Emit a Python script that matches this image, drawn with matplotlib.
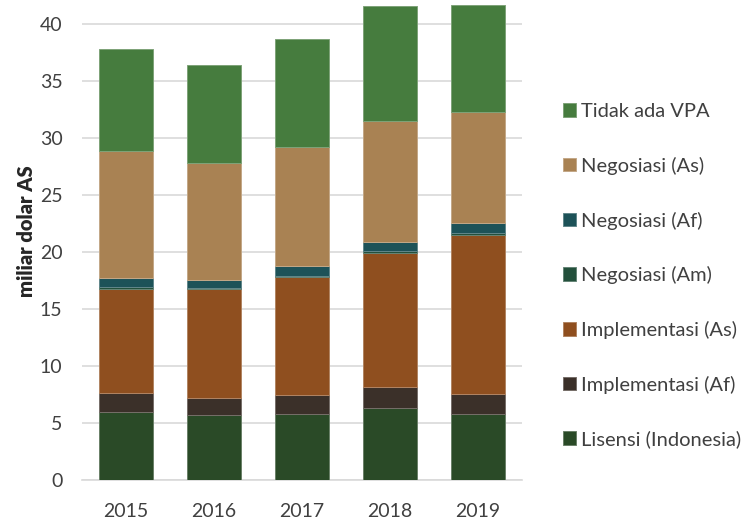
import matplotlib
matplotlib.use("Agg")
import matplotlib.pyplot as plt
import matplotlib.colors as mcolors
import numpy as np

plt.rcParams['font.family'] = ['Lato', 'DejaVu Sans']

years = ["2015", "2016", "2017", "2018", "2019"]
series_names = ["Lisensi (Indonesia)", "Implementasi (Af)", "Implementasi (As)",
                "Negosiasi (Am)", "Negosiasi (Af)", "Negosiasi (As)", "Tidak ada VPA"]
lisensi = [5.96, 5.73, 5.84, 6.37, 5.84]
impl_af = [1.67, 1.52, 1.62, 1.79, 1.70]
impl_as = [9.18, 9.50, 10.37, 11.78, 14.00]
neg_am = [0.12, 0.12, 0.12, 0.17, 0.15]
neg_af = [0.84, 0.73, 0.82, 0.79, 0.86]
neg_as = [11.14, 10.23, 10.47, 10.62, 9.73]
tidak = [8.92, 8.60, 9.44, 10.08, 9.38]
colors = ["#2a4a27", "#3b3029", "#8f4f1f", "#23503c", "#1d5258", "#a98253", "#467c3e"]

data = [lisensi, impl_af, impl_as, neg_am, neg_af, neg_as, tidak]

fig = plt.figure(figsize=(7.5, 5.19), dpi=100)
ax = fig.add_axes([82/750, (519-480.3)/519, 440/750, (480.3-1.5)/519])

x = np.arange(len(years))
bottom = np.zeros(len(years))
handles = []
for vals, name, col in zip(data, series_names, colors):
    rgb = np.array(mcolors.to_rgb(col))
    light = rgb + (1 - rgb) * 0.3
    b = ax.bar(x, vals, width=0.62, bottom=bottom, color=col, edgecolor=light,
               linewidth=0.7, label=name, zorder=3)
    handles.append(b)
    bottom += np.array(vals)

ax.set_xlim(-0.5, 4.5)
ax.set_ylim(0, 42)
ax.set_yticks(np.arange(0, 41, 5))
ax.set_xticks(x)
ax.set_xticklabels(years)
ax.yaxis.grid(True, color="#d9d9d9", linewidth=1.2, zorder=0)
ax.set_axisbelow(True)
for s in ["top", "right", "left"]:
    ax.spines[s].set_visible(False)
ax.spines["bottom"].set_color("#d9d9d9")
ax.spines["bottom"].set_linewidth(1.2)
ax.tick_params(axis="both", length=0, labelsize=14, colors="#404040")
ax.tick_params(axis="y", pad=14)
ax.tick_params(axis="x", pad=16)
ax.set_ylabel("miliar dolar AS", fontsize=14.5, fontweight="heavy", color="#262626")
ax.yaxis.set_label_coords(-0.104, 1 - (231-1.5)/(480.3-1.5))

leg = fig.legend(handles[::-1], series_names[::-1], loc="upper left",
                 bbox_to_anchor=(544.5/750, 1 - 85/519), frameon=False,
                 fontsize=14.5, handlelength=0.65, handleheight=0.65,
                 handletextpad=0.25, labelspacing=1.82, labelcolor="#404040")

fig.savefig("out.png", dpi=100)
